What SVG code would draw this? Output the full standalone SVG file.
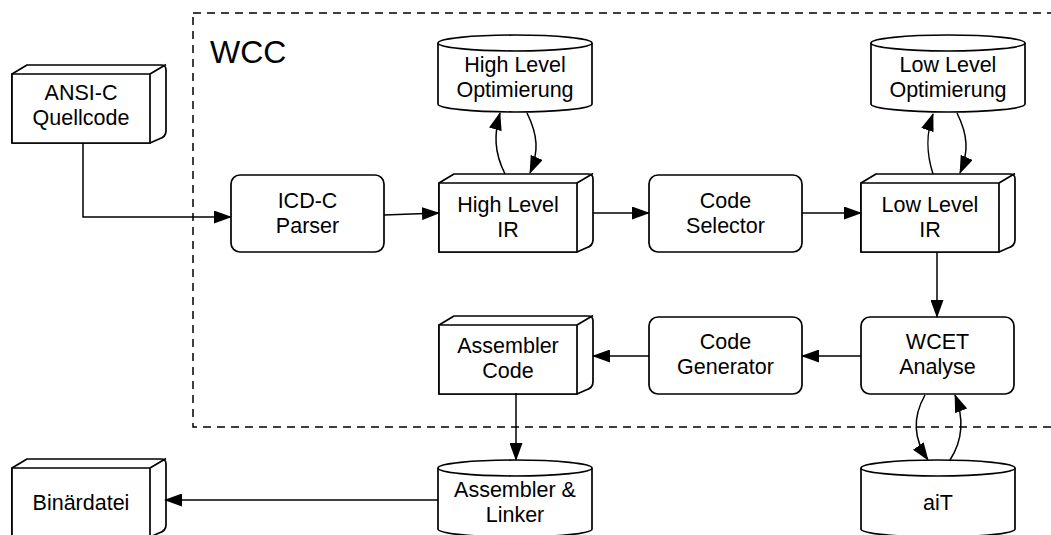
<svg xmlns="http://www.w3.org/2000/svg" xmlns:xlink="http://www.w3.org/1999/xlink" width="1051" height="535" viewBox="0 0 1051 535">
<style>
.shape{fill:#fff;stroke:#000;stroke-width:1.7;stroke-linejoin:round}
.edge{fill:none;stroke:#000;stroke-width:1.5;marker-end:url(#arr)}
.lbl{font-family:"Liberation Sans",Arial,Helvetica,sans-serif;font-size:21.5px;fill:#000;text-anchor:middle}
.frame{fill:none;stroke:#000;stroke-width:1.5;stroke-dasharray:8 6}
</style>
<defs>
<marker id="arr" markerUnits="userSpaceOnUse" viewBox="0 0 18 13" refX="17" refY="6.5" markerWidth="18" markerHeight="13" orient="auto">
<path d="M0,0 L18,6.5 L0,13 Z" fill="#000"/>
</marker>
<symbol id="box3d" overflow="visible">
<path class="shape" d="M0,0 L15,-9 H149 Q154,-9 154,-4 V57 Q154,63 147,65 L138,69 H0 Z"/>
<path class="shape" d="M0,0 H138 V69 H0 Z M138,0 L154,-9.5"/>
</symbol>
<symbol id="cyl" overflow="visible">
<path class="shape" d="M0,8 A77,8 0 0 1 154,8 V69 A77,8 0 0 1 0,69 Z"/>
<path class="shape" fill="none" d="M0,8 A77,8 0 0 0 154,8"/>
</symbol>
</defs>
<rect width="1051" height="535" fill="#fff"/>
<g id="wcc">
<rect class="frame" x="193" y="13" width="880" height="414"/>
<text x="210" y="63" style="font-family:'Liberation Sans',Arial,sans-serif;font-size:32px">WCC</text>
</g>
<g id="ansi">
<use xlink:href="#box3d" x="12" y="74"/>
<text class="lbl" x="81" y="100">ANSI-C</text>
<text class="lbl" x="81" y="125">Quellcode</text>
</g>
<g id="icdc">
<rect class="shape" x="231" y="175" width="153" height="77" rx="9"/>
<text class="lbl" x="307.5" y="208">ICD-C</text>
<text class="lbl" x="307.5" y="233">Parser</text>
</g>
<g id="hlir">
<use xlink:href="#box3d" x="439" y="183"/>
<text class="lbl" x="508" y="212">High Level</text>
<text class="lbl" x="508" y="237">IR</text>
</g>
<g id="hlopt">
<use xlink:href="#cyl" x="438" y="35"/>
<text class="lbl" x="515" y="72">High Level</text>
<text class="lbl" x="515" y="97">Optimierung</text>
</g>
<g id="codesel">
<rect class="shape" x="649" y="175" width="153" height="77" rx="9"/>
<text class="lbl" x="725.5" y="208">Code</text>
<text class="lbl" x="725.5" y="233">Selector</text>
</g>
<g id="llir">
<use xlink:href="#box3d" x="861" y="183"/>
<text class="lbl" x="930" y="212">Low Level</text>
<text class="lbl" x="930" y="237">IR</text>
</g>
<g id="llopt">
<use xlink:href="#cyl" x="871" y="35"/>
<text class="lbl" x="948" y="72">Low Level</text>
<text class="lbl" x="948" y="97">Optimierung</text>
</g>
<g id="wcet">
<rect class="shape" x="861" y="317" width="153" height="77" rx="9"/>
<text class="lbl" x="937.5" y="349">WCET</text>
<text class="lbl" x="937.5" y="374">Analyse</text>
</g>
<g id="codegen">
<rect class="shape" x="649" y="317" width="153" height="77" rx="9"/>
<text class="lbl" x="725.5" y="349">Code</text>
<text class="lbl" x="725.5" y="374">Generator</text>
</g>
<g id="asmcode">
<use xlink:href="#box3d" x="439" y="325"/>
<text class="lbl" x="508" y="353">Assembler</text>
<text class="lbl" x="508" y="378">Code</text>
</g>
<g id="asmlink">
<use xlink:href="#cyl" x="438" y="460"/>
<text class="lbl" x="515" y="497">Assembler &amp;</text>
<text class="lbl" x="515" y="522">Linker</text>
</g>
<g id="ait">
<use xlink:href="#cyl" x="861" y="460"/>
<text class="lbl" x="938" y="510">aiT</text>
</g>
<g id="binaer">
<use xlink:href="#box3d" x="12" y="468"/>
<text class="lbl" x="81" y="510">Binärdatei</text>
</g>
<g id="connectors">
<path class="edge" d="M83,143 V217 H231"/>
<path class="edge" d="M384,215 L439,213"/>
<path class="edge" d="M593,213 H649"/>
<path class="edge" d="M802,213 H861"/>
<path class="edge" d="M937,252 V317"/>
<path class="edge" d="M861,356 H802"/>
<path class="edge" d="M649,356 H593"/>
<path class="edge" d="M516,393 V460"/>
<path class="edge" d="M438,500 H165"/>
<path class="edge" d="M505,174 C494,152 494,134 500,113"/>
<path class="edge" d="M527,113 C538,135 539,152 530,173"/>
<path class="edge" d="M933,174 C926,152 926,134 933,114"/>
<path class="edge" d="M957,113 C968,135 969,152 960,173"/>
<path class="edge" d="M925,395 C912,418 914,440 928,460"/>
<path class="edge" d="M950,460 C963,440 964,418 955,395"/>
</g>
</svg>
